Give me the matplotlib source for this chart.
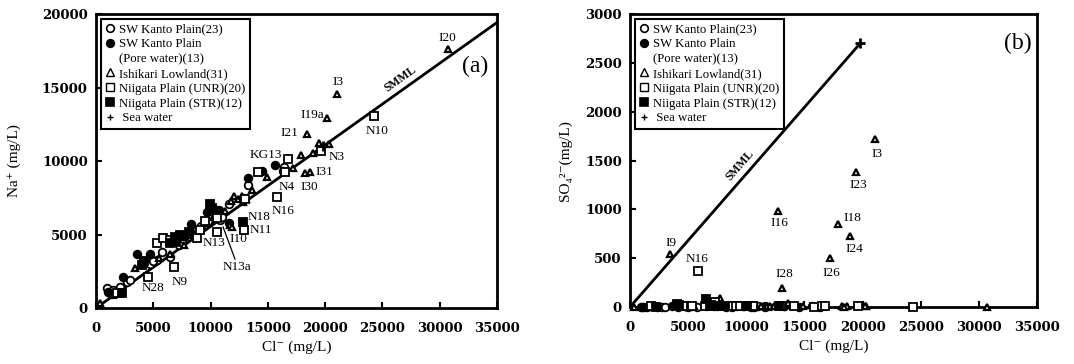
import matplotlib
matplotlib.use("Agg")
import matplotlib.pyplot as plt
from matplotlib.lines import Line2D
import numpy as np

plt.rcParams['font.family'] = ['Liberation Serif', 'DejaVu Serif']

# ---------------- data ----------------
# SW Kanto Plain (open circles)
kanto_cl = [960, 1200, 2100, 2710, 4700, 5300, 5760, 6500, 7500, 8800, 9800, 10400,
            10800, 11000, 11600, 13270, 16420, 16300, 5000, 9200, 7200, 1500, 3000]
kanto_na = [1360, 1050, 1430, 1770, 3000, 3300, 3800, 3500, 4500, 5400, 5900, 6300,
            6000, 6200, 7070, 8360, 9590, 9300, 3200, 5600, 4300, 1200, 1900]
kanto_so4 = [5, 3, 8, 4, 6, 10, 5, 8, 6, 4, 7, 5, 9, 6, 5, 8, 6, 5, 4, 6, 7, 3, 4]

# SW Kanto Plain pore water (filled circles)
pore_cl = [1050, 2360, 3580, 4710, 8290, 9700, 10200, 10700, 11570, 13260, 14500, 15630, 4100]
pore_na = [1090, 2110, 3670, 3670, 5710, 6500, 6800, 6700, 5780, 8840, 9300, 9720, 3200]
pore_so4 = [3, 5, 8, 6, 4, 10, 7, 5, 6, 8, 5, 6, 4]

# Ishikari Lowland (open triangles)
ishi_cl = [350, 3400, 7700, 9500, 11700, 11900, 11800, 12000, 12400, 12700, 13100, 12800,
           13600, 17200, 17850, 18250, 18680, 18400, 18950, 19450, 20300, 20170, 21050,
           30700, 6500, 8200, 1500, 14900, 10300, 11300, 5500]
ishi_na = [340, 2720, 4300, 5800, 5640, 5500, 7300, 7600, 7400, 7600, 7400, 7200,
           8020, 9510, 10400, 9180, 9250, 11830, 10540, 11200, 11150, 12920, 14550,
           17610, 3700, 5000, 900, 8900, 6200, 6600, 3400]
ishi_so4 = [5, 543, 95, 10, 10, 5, 10, 15, 10, 986, 191, 20,
            40, 498, 850, 10, 10, 5, 727, 1386, 10, 10, 1717,
            5, 20, 10, 5, 10, 15, 10, 8]

# Niigata Plain UNR (open squares)
unr_cl = [4540, 6810, 5320, 5850, 6460, 8820, 9080, 10560, 10560, 12920, 15780, 16500,
          16780, 14140, 19640, 24300, 7300, 1800, 9500, 13000]
unr_na = [2110, 2790, 4420, 4760, 4620, 4760, 5300, 5170, 6120, 5300, 7550, 9250,
          10130, 9250, 10680, 13060, 4900, 1000, 5900, 7400]
unr_so4 = [10, 8, 12, 369, 15, 10, 8, 6, 10, 12, 5, 10, 8, 6, 8, 5, 50, 6, 10, 8]

# Niigata Plain STR (filled squares)
str_cl = [2270, 4000, 4200, 6900, 7300, 7700, 8100, 6500, 9950, 10100, 12830, 7000]
str_na = [1020, 2920, 3200, 4800, 5000, 4900, 5200, 4400, 7070, 6800, 5860, 4500]
str_so4 = [5, 30, 20, 15, 10, 12, 8, 80, 10, 6, 8, 20]

# Sea water
sea_cl = [19800]
sea_na = [10990]
sea_so4 = [2700]

# point labels
labels_a = ["I20", "I3", "I19a", "I21", "N10", "N3", "KG13", "I31", "N4", "I30",
            "N16", "N18", "N11", "I10", "N13", "N13a", "N28", "N9"]
labels_a_x = [30640, 21130, 18900, 16850, 24530, 21040, 14840, 19900, 16680, 18600,
              16330, 14230, 14400, 12400, 10300, 12310, 4980, 7330]
labels_a_y = [18360, 15370, 13120, 11900, 12040, 10270, 10400, 9250, 8230, 8230,
              6600, 6190, 5300, 4690, 4420, 2790, 1360, 1770]

labels_b = ["I3", "I23", "I18", "I24", "I26", "I16", "I28", "I9", "N16"]
labels_b_x = [21210, 19640, 19150, 19260, 17340, 12840, 13270, 3500, 5730]
labels_b_y = [1567, 1249, 908, 591, 351, 863, 335, 659, 488]

# ---------------- figure ----------------
fig = plt.figure(figsize=(10.74, 3.64), dpi=100)
axa = fig.add_axes([0.0894, 0.1538, 0.3734, 0.8077])
axb = fig.add_axes([0.5866, 0.1566, 0.3790, 0.8049])

ms = 5.5
mew = 1.3
styles = dict(
    kanto=dict(marker='o', mfc='white', mec='black'),
    pore=dict(marker='o', mfc='black', mec='black'),
    ishi=dict(marker='^', mfc='white', mec='black'),
    unr=dict(marker='s', mfc='white', mec='black'),
    strs=dict(marker='s', mfc='black', mec='black'),
)

def draw(ax, yk, yp, yi, yu, ys, ysea):
    kw = dict(ls='none', zorder=4, clip_on=False)
    ax.plot(kanto_cl, yk, ms=ms, mew=mew, **kw, **styles['kanto'])
    ax.plot(pore_cl, yp, ms=ms, mew=mew, **kw, **styles['pore'])
    ax.plot(ishi_cl, yi, ms=ms - 0.5, mew=mew + 0.3, **kw, **styles['ishi'])
    ax.plot(unr_cl, yu, ms=ms, mew=mew, **kw, **styles['unr'])
    ax.plot(str_cl, ys, ms=ms, mew=mew, **kw, **styles['strs'])
    ax.plot(sea_cl, ysea, ls='none', marker='+', ms=7, mew=2, color='black', zorder=5)

draw(axa, kanto_na, pore_na, ishi_na, unr_na, str_na, sea_na)
draw(axb, kanto_so4, pore_so4, ishi_so4, unr_so4, str_so4, sea_so4)

# SMML lines
ratio_na = sea_na[0] / sea_cl[0]
xl = np.array([0, 35000])
axa.plot(xl, ratio_na * xl, color='black', lw=2, zorder=3)
axb.plot([0, sea_cl[0]], [0, sea_so4[0]], color='black', lw=2, zorder=3)

axa.text(26600, 15600, "SMML", rotation=35.5, fontsize=8.5, fontweight='bold',
         ha='center', va='center')
axb.text(9450, 1450, "SMML", rotation=49, fontsize=8.5, fontweight='bold',
         ha='center', va='center')

for t, x, y in zip(labels_a, labels_a_x, labels_a_y):
    axa.text(x, y, t, fontsize=9.5, ha='center', va='center', zorder=6)
axa.plot([11090, 12130], [5510, 3330], color='black', lw=0.9, zorder=6)
for t, x, y in zip(labels_b, labels_b_x, labels_b_y):
    axb.text(x, y, t, fontsize=9.5, ha='center', va='center', zorder=6)

axa.text(0.945, 0.82, "(a)", transform=axa.transAxes, fontsize=17, ha='center', va='center')
axb.text(0.953, 0.90, "(b)", transform=axb.transAxes, fontsize=17, ha='center', va='center')

axa.set_ylim(0, 20000)
axa.set_yticks(np.arange(0, 20001, 5000))
axb.set_ylim(0, 3000)
axb.set_yticks(np.arange(0, 3001, 500))

for ax in (axa, axb):
    ax.set_xlim(0, 35000)
    ax.set_xticks(np.arange(0, 35001, 5000))
    for s in ax.spines.values():
        s.set_linewidth(2)
    ax.tick_params(direction='in', length=4, width=1.5)
    ax.tick_params(axis='x', pad=10)
    ax.tick_params(axis='y', pad=6)
    for lbl in ax.get_xticklabels() + ax.get_yticklabels():
        lbl.set_fontfamily('DejaVu Serif')
        lbl.set_fontweight('bold')
        lbl.set_fontsize(9.5)
    ax.set_xlabel("Cl\u207b (mg/L)", fontsize=11, labelpad=4)

axa.set_ylabel("Na\u207a (mg/L)", fontsize=11, labelpad=15)
axb.set_ylabel("SO\u2084\u00b2\u207b(mg/L)", fontsize=11, labelpad=9)

# legends
def legend(ax, pos):
    h = [
        Line2D([], [], ls='none', ms=ms, mew=1.2, **styles['kanto']),
        Line2D([], [], ls='none', ms=ms, mew=1.2, **styles['pore']),
        Line2D([], [], ls='none', marker=None),
        Line2D([], [], ls='none', ms=ms, mew=1.0, **styles['ishi']),
        Line2D([], [], ls='none', ms=ms, mew=1.0, **styles['unr']),
        Line2D([], [], ls='none', ms=ms, mew=1.2, **styles['strs']),
        Line2D([], [], ls='none', marker='+', ms=5, mew=1.0, color='black'),
    ]
    t = ["SW Kanto Plain(23)", "SW Kanto Plain", "(Pore water)(13)", "Ishikari Lowland(31)",
         "Niigata Plain (UNR)(20)", "Niigata Plain (STR)(12)", " Sea water"]
    lg = ax.legend(h, t, loc='upper left', bbox_to_anchor=pos, fontsize=9.2,
                   frameon=True, fancybox=False, edgecolor='black', framealpha=1,
                   handlelength=0.8, handletextpad=0.3, labelspacing=0.22,
                   borderpad=0.35, borderaxespad=0)
    lg.get_frame().set_linewidth(1.5)
    lg.set_zorder(10)

legend(axa, (0.012, 0.983))
legend(axb, (0.012, 0.983))

fig.savefig("out.png", dpi=100)
